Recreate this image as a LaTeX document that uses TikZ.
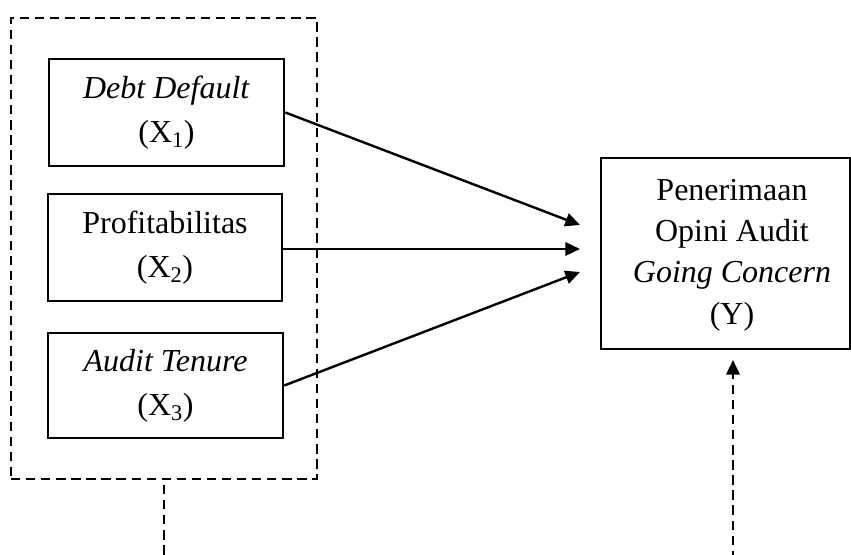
\documentclass[tikz,border=0pt]{standalone}
\usepackage{fontspec}
\setmainfont{Liberation Serif}
\usetikzlibrary{arrows.meta}
\begin{document}
\begin{tikzpicture}[x=0.75pt,y=-0.75pt,
  varbox/.style={draw,line width=2pt,inner sep=0pt,align=center,
    font=\fontsize{24pt}{33pt}\selectfont},
  groupbox/.style={draw,line width=2pt,dash pattern=on 7pt off 4.3pt,inner sep=0pt},
  ybox/.style={draw,line width=2pt,inner sep=0pt},
  ytext/.style={align=center,inner sep=0pt,font=\fontsize{24pt}{31pt}\selectfont},
  arr/.style={line width=1.8pt,-{Triangle[length=11pt,width=10pt]}},
  dasharr/.style={line width=2pt,dash pattern=on 7pt off 4.3pt},
  dasharrhead/.style={line width=2pt,dash pattern=on 7pt off 4.3pt,-{Triangle[length=11pt,width=10pt]}}
]
\useasboundingbox (0,0) rectangle (851,555);
\node[groupbox,minimum width=229.5pt,minimum height=345.75pt] (grp) at (164,248.5) {};
\node[varbox,minimum width=176.25pt,minimum height=80.25pt] (x1) at (166.5,112.5) {\textit{Debt Default}\\(X\textsubscript{1})};
\node[varbox,minimum width=175.5pt,minimum height=80.25pt] (x2) at (165,247.5) {Profitabilitas\\(X\textsubscript{2})};
\node[varbox,minimum width=176.25pt,minimum height=78.75pt] (x3) at (165.5,385.5) {\textit{Audit Tenure}\\(X\textsubscript{3})};
\node[ybox,minimum width=186.75pt,minimum height=143.25pt] (y) at (725.5,253.5) {};
\node[ytext] (yt) at (732,255) {Penerimaan\\Opini Audit\\\textit{Going Concern}\\(Y)};
\coordinate (t1) at (580,225);
\coordinate (t2) at (580,249);
\coordinate (t3) at (580,272);
\draw[arr] (x1.east) -- (t1);
\draw[arr] (x2.east |- t2) -- (t2);
\draw[arr] (x3.east) -- (t3);
\coordinate (g1) at (164,485);
\coordinate (g2) at (164,560);
\draw[dasharr] (g1) -- (g2);
\coordinate (r1) at (733,560);
\coordinate (r2) at (733,360);
\draw[dasharrhead] (r1) -- (r2);
\end{tikzpicture}
\end{document}
